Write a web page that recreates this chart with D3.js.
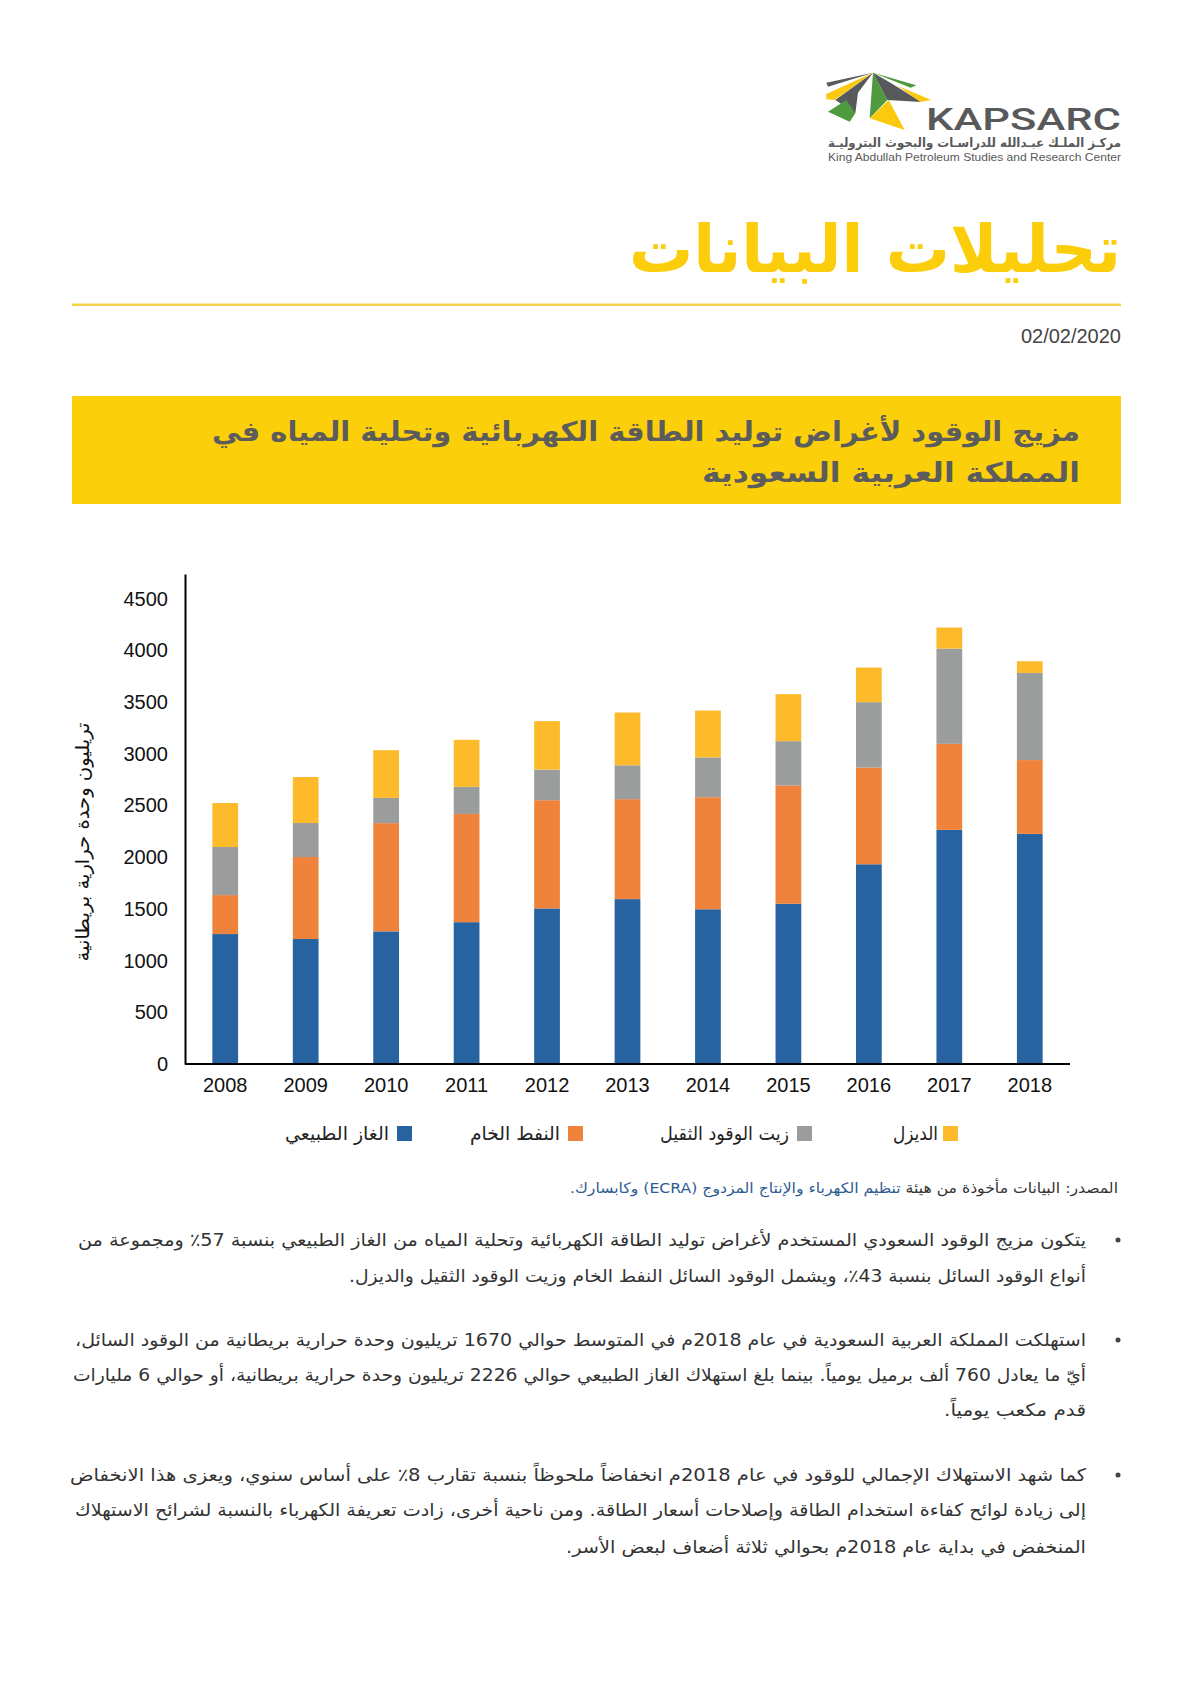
<!DOCTYPE html>
<html><head><meta charset="utf-8">
<script src="https://cdn.jsdelivr.net/npm/d3@7"></script>
<style>body{margin:0;background:#fff}svg{display:block}</style>
</head><body><script>
// ---------------- DATA ----------------
const years = ["2008","2009","2010","2011","2012","2013","2014","2015","2016","2017","2018"];
const gas    = [1257,1209,1283,1372,1505,1595,1497,1550,1932,2265,2226];
const crude  = [377, 793,1047,1047,1047, 967,1084,1145, 936, 832, 714];
const hfo    = [465, 329, 244, 262, 296, 328, 385, 428, 632, 921, 843];
const diesel = [425, 445, 462, 455, 469, 510, 453, 455, 335, 204, 113];
const seriesNames = ["الغاز الطبيعي","النفط الخام","زيت الوقود الثقيل","الديزل"];
const yTicks = [0,500,1000,1500,2000,2500,3000,3500,4000,4500];
const yLabel = "تريليون وحدة حرارية بريطانية";

// ---------------- SETUP ----------------
const W=1191,H=1684;
const AR="'DejaVu Sans', sans-serif";
const LAT="'Liberation Sans', Arial, Helvetica, sans-serif";
const svg=d3.select("body").append("svg").attr("width",W).attr("height",H);
svg.append("rect").attr("width",W).attr("height",H).attr("fill","#fff");

function fit(g,str,l,r,y,size,fill,weight,family){
  return g.append("text").attr("x",(l+r)/2).attr("y",y)
    .attr("text-anchor","middle").attr("direction","rtl")
    .attr("font-family",family||AR).attr("font-size",size)
    .attr("font-weight",weight||"normal").attr("fill",fill)
    .attr("textLength",r-l).attr("lengthAdjust","spacingAndGlyphs")
    .text(str);
}

// ---------------- LOGO ----------------
const logo=svg.append("g");
const z=(p)=>[758+p[0]/3,50+p[1]/3];
const A=[345,68];
const polys=[
 {c:"#58595b",p:[A,[205,98],[210,110]]},
 {c:"#fcc90e",p:[A,[205,132],[205,148],[230,150]]},
 {c:"#58595b",p:[A,[232,150],[292,190],[300,128]]},
 {c:"#4f9a3f",p:[[210,185],[265,150],[292,190],[275,215]]},
 {c:"#4f9a3f",p:[A,[335,205],[388,150]]},
 {c:"#fcc90e",p:[[335,205],[392,150],[440,240]]},
 {c:"#58595b",p:[A,[388,150],[490,156],[400,100]]},
 {c:"#4f9a3f",p:[A,[475,106],[458,113]]},
 {c:"#fcc90e",p:[[420,108],[520,150],[487,156]]}
];
polys.forEach(d=>logo.append("polygon").attr("points",d.p.map(z).map(q=>q.join(",")).join(" ")).attr("fill",d.c));
logo.append("text").attr("x",926).attr("y",130).attr("font-family","Roboto, 'Liberation Sans', sans-serif")
  .attr("font-size",32).attr("font-weight",500).attr("fill","#58595b")
  .attr("textLength",195).attr("lengthAdjust","spacingAndGlyphs").text("KAPSARC");
fit(logo,"مركـز الملـك عبـدالله للدراسـات والبحوث البتروليـة",828,1121,147,12.5,"#58595b","bold");
logo.append("text").attr("x",828).attr("y",161).attr("font-family",LAT).attr("font-size",11)
  .attr("fill","#58595b").attr("textLength",293).attr("lengthAdjust","spacingAndGlyphs")
  .text("King Abdullah Petroleum Studies and Research Center");

// ---------------- HEADER ----------------
fit(svg,"تحليلات البيانات",629,1121,272,66,"#fbcd0b","bold");
svg.append("rect").attr("x",72).attr("y",303.5).attr("width",1049).attr("height",2.5).attr("fill","#f5d349");
svg.append("text").attr("x",1121).attr("y",343).attr("text-anchor","end").attr("font-family",LAT)
  .attr("font-size",20).attr("fill","#444").text("02/02/2020");

svg.append("rect").attr("x",72).attr("y",396).attr("width",1049).attr("height",108).attr("fill","#fccf0b");
fit(svg,"مزيج الوقود لأغراض توليد الطاقة الكهربائية وتحلية المياه في",212,1080,441,27,"#5c5c5c","bold");
fit(svg,"المملكة العربية السعودية",702,1080,482,27,"#5c5c5c","bold");

// ---------------- CHART ----------------
const x=d3.scaleBand().domain(years).range([185,1070]).paddingInner(0.68).paddingOuter(0.34);
const y=d3.scaleLinear().domain([0,4740]).range([1064,574]);
const colors=["#2763a1","#ef833b","#9b9d9d","#fdbb2b"];
const rows=years.map((yr,i)=>({year:yr,s0:gas[i],s1:crude[i],s2:hfo[i],s3:diesel[i]}));
const stack=d3.stack().keys(["s0","s1","s2","s3"])(rows);

const chart=svg.append("g");
chart.selectAll("g.layer").data(stack).join("g").attr("class","layer")
  .attr("fill",(d,i)=>colors[i])
  .selectAll("rect").data(d=>d).join("rect")
  .attr("x",d=>x(d.data.year)).attr("width",x.bandwidth())
  .attr("y",d=>y(d[1])).attr("height",d=>y(d[0])-y(d[1]));

const yAxis=chart.append("g").attr("transform","translate(185,0)")
  .call(d3.axisLeft(y).tickValues(yTicks).tickSize(0).tickPadding(17).tickFormat(d3.format("d")));
yAxis.select(".domain").attr("stroke","#000").attr("stroke-width",2);
yAxis.selectAll("text").attr("font-family",LAT).attr("font-size",20).attr("fill","#111");

const xAxis=chart.append("g").attr("transform","translate(0,1064)")
  .call(d3.axisBottom(x).tickSize(0).tickPadding(14));
xAxis.select(".domain").attr("stroke","#000").attr("stroke-width",2).attr("d","M185,0H1070");
xAxis.selectAll("text").attr("font-family",LAT).attr("font-size",20).attr("fill","#111");

chart.append("text").attr("transform","translate(89,842) rotate(-90)")
  .attr("text-anchor","middle").attr("direction","rtl").attr("font-family",AR).attr("font-size",19)
  .attr("fill","#111").attr("textLength",239).attr("lengthAdjust","spacingAndGlyphs").text(yLabel);

// legend
const legendLayout=[{sq:397,tl:285,tr:389},{sq:568,tl:470,tr:560},{sq:797,tl:660,tr:789},{sq:943,tl:893,tr:938}];
const lg=svg.append("g");
seriesNames.forEach((n,i)=>{
  const L=legendLayout[i];
  lg.append("rect").attr("x",L.sq).attr("y",1126).attr("width",15).attr("height",15).attr("fill",colors[i]);
  fit(lg,n,L.tl,L.tr,1140,19,"#222");
});

// ---------------- SOURCE ----------------
const src=svg.append("text").attr("x",844).attr("y",1193).attr("text-anchor","middle").attr("direction","rtl")
  .attr("font-family",AR).attr("font-size",14.5).attr("textLength",548).attr("lengthAdjust","spacingAndGlyphs");
src.append("tspan").attr("fill","#333").text("المصدر: البيانات مأخوذة من هيئة ");
src.append("tspan").attr("fill","#2e5c94").text("تنظيم الكهرباء والإنتاج المزدوج (ECRA) وكابسارك.");

// ---------------- BULLETS ----------------
const bullets=[
 [["يتكون مزيج الوقود السعودي المستخدم لأغراض توليد الطاقة الكهربائية وتحلية المياه من الغاز الطبيعي بنسبة 57٪ ومجموعة من",78,1246],
  ["أنواع الوقود السائل بنسبة 43٪، ويشمل الوقود السائل النفط الخام وزيت الوقود الثقيل والديزل.",349,1282]],
 [["استهلكت المملكة العربية السعودية في عام 2018م في المتوسط حوالي 1670 تريليون وحدة حرارية بريطانية من الوقود السائل،",75,1346],
  ["أيّ ما يعادل 760 ألف برميل يومياً. بينما بلغ استهلاك الغاز الطبيعي حوالي 2226 تريليون وحدة حرارية بريطانية، أو حوالي 6 مليارات",73,1381],
  ["قدم مكعب يومياً.",944,1416]],
 [["كما شهد الاستهلاك الإجمالي للوقود في عام 2018م انخفاضاً ملحوظاً بنسبة تقارب 8٪ على أساس سنوي، ويعزى هذا الانخفاض",70,1481],
  ["إلى زيادة لوائح كفاءة استخدام الطاقة وإصلاحات أسعار الطاقة. ومن ناحية أخرى، زادت تعريفة الكهرباء بالنسبة لشرائح الاستهلاك",75,1516],
  ["المنخفض في بداية عام 2018م بحوالي ثلاثة أضعاف لبعض الأسر.",566,1553]]
];
const bg=svg.append("g");
bullets.forEach(b=>{
  bg.append("circle").attr("cx",1118).attr("cy",b[0][2]-6).attr("r",2.5).attr("fill","#444");
  b.forEach(([t,l,yy])=>fit(bg,t,l,1086,yy,17.5,"#333"));
});
</script></body></html>
